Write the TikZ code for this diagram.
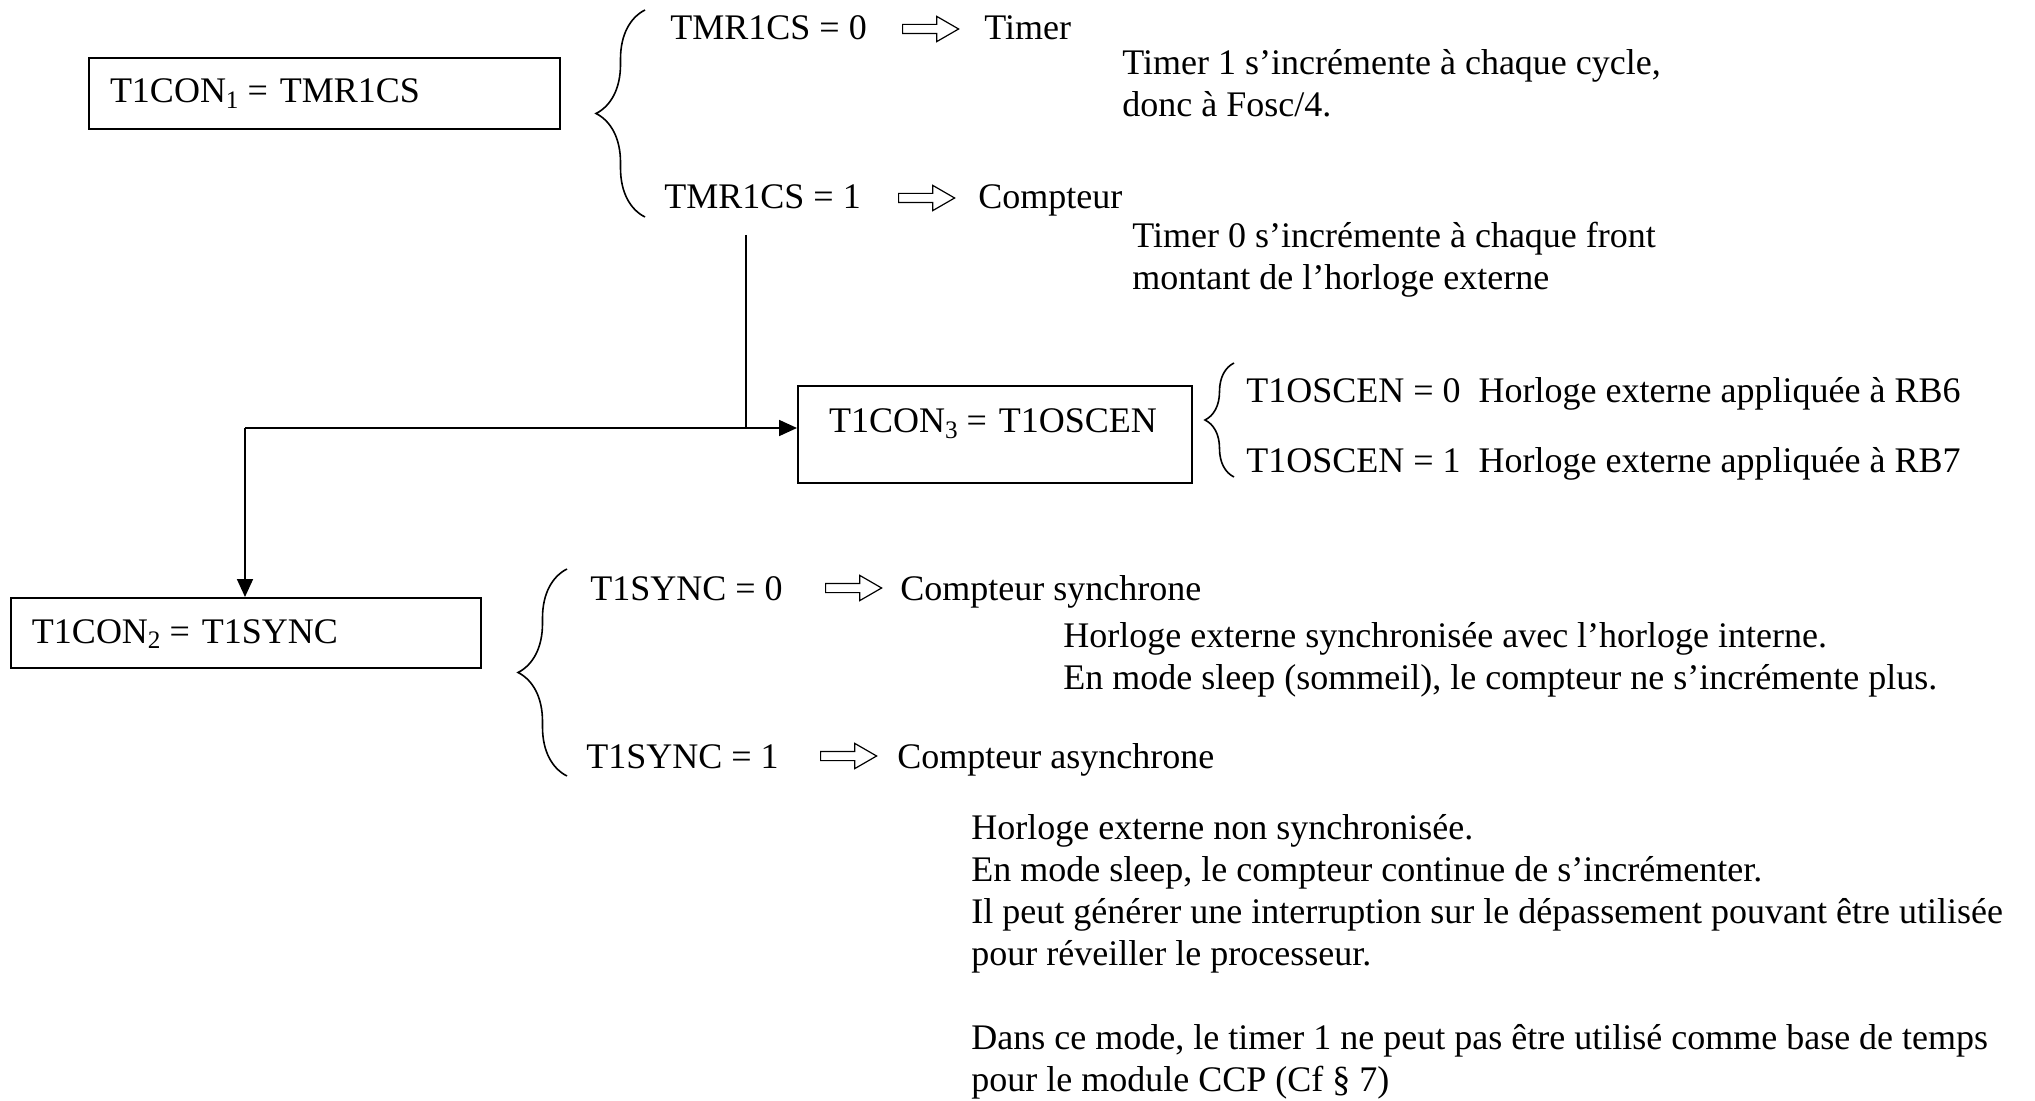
\documentclass[tikz,border=0pt]{standalone}
\usepackage{fontspec}
\setmainfont{Liberation Serif}
\usetikzlibrary{arrows.meta,shapes.arrows,decorations.pathreplacing}

\begin{document}
\begin{tikzpicture}[x=0.5pt, y=-0.5pt,
  every node/.style={font=\fontsize{18}{21}\selectfont},
  box/.style={draw, line width=1pt, anchor=north west, align=left,
              inner xsep=10.5pt, inner ysep=0pt,
              text height=22.5pt, text depth=13pt},
  txt/.style={anchor=base west, inner sep=0pt, align=left},
  imp/.style={single arrow, draw, line width=0.6pt, anchor=tail,
              minimum height=28pt, minimum width=12pt,
              inner xsep=0pt, inner ysep=2pt,
              single arrow head extend=4pt, single arrow tip angle=60},
  brc/.style={decorate, line width=0.8pt, decoration={brace, amplitude=#1}},
  arr/.style={-{Triangle[length=9pt,width=8pt]}, line width=0.9pt},
]
  \useasboundingbox (0,0) rectangle (2035,1101);

  %% T1CON1 (source d'horloge)
  \node[box, text width=214.5pt] (t1con1) at (88,57) {T1CON\textsubscript{1}\kern-2pt{} = TMR1CS};
  \draw[brc=24.5pt] (645,217) -- (645,10);
  \node[txt] (cs0)  at (670,40)   {TMR1CS = 0};
  \node[imp] (cs0a) at (902,29)   {};
  \node[txt] (tim)  at (984,40)   {Timer};
  \node[txt] (tim1) at (1122,117) {Timer 1 s’incrémente à chaque cycle,\\donc à Fosc/4.};
  \node[txt] (cs1)  at (664,209)  {TMR1CS = 1};
  \node[imp] (cs1a) at (898,198)  {};
  \node[txt] (cpt)  at (978,209)  {Compteur};
  \node[txt] (cpt1) at (1132,290) {Timer 0 s’incrémente à chaque front\\montant de l’horloge externe};

  %% T1CON3 (oscillateur)
  \node[box, text width=166pt, inner xsep=15.5pt, text height=23.5pt, text depth=25pt]
    (t1con3) at (797,385) {T1CON\textsubscript{3}\kern-2pt{} = T1OSCEN};
  \draw[brc=14.5pt] (1234,477) -- (1234,363);
  \node[txt] (osc0) at (1246,403) {T1OSCEN = 0~~Horloge externe appliquée à RB6};
  \node[txt] (osc1) at (1246,473) {T1OSCEN = 1~~Horloge externe appliquée à RB7};

  %% T1CON2 (synchronisation)
  \node[box, text width=214pt, text depth=12.5pt] (t1con2) at (10,597) {T1CON\textsubscript{2}\kern-2pt{} = T1SYNC};
  \draw[brc=24.5pt] (567,776) -- (567,569);
  \node[txt] (sy0)  at (590,600)  {T1SYNC = 0};
  \node[imp] (sy0a) at (825,588)  {};
  \node[txt] (syn)  at (900,600)  {Compteur synchrone};
  \node[txt] (syn1) at (1063,689) {Horloge externe synchronisée avec l’horloge interne.\\En mode sleep (sommeil), le compteur ne s’incrémente plus.};
  \node[txt] (sy1)  at (586,768)  {T1SYNC = 1};
  \node[imp] (sy1a) at (820,756)  {};
  \node[txt] (asy)  at (897,768)  {Compteur asynchrone};
  \node[txt] (asy1) at (971,1091) {Horloge externe non synchronisée.\\
    En mode sleep, le compteur continue de s’incrémenter.\\
    Il peut générer une interruption sur le dépassement pouvant être utilisée\\
    pour réveiller le processeur.\\[21pt]
    Dans ce mode, le timer 1 ne peut pas être utilisé comme base de temps\\
    pour le module CCP (Cf § 7)};

  %% liaisons
  \coordinate (drop)   at (746,235);
  \coordinate (jct)    at (746,428);
  \coordinate (corner) at (245,428);
  \draw[line width=0.9pt] (drop) -- (jct);
  \draw[arr] (corner) -- (corner -| t1con3.west);
  \draw[arr] (corner) -- (corner |- t1con2.north);
\end{tikzpicture}
\end{document}
